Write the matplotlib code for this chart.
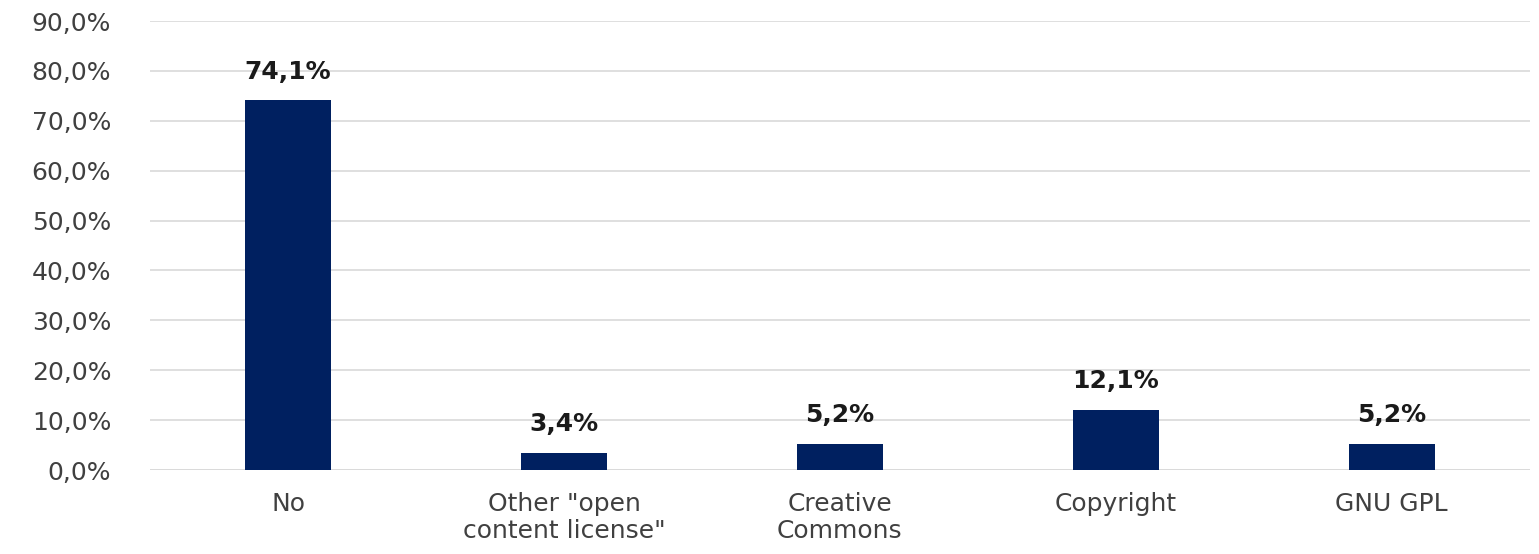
import numpy as np
import matplotlib
matplotlib.use('Agg')
import matplotlib.pyplot as plt

categories = ['No', 'Other "open\ncontent license"', 'Creative\nCommons', 'Copyright', 'GNU GPL']
values = [74.1, 3.4, 5.2, 12.1, 5.2]
yticks = [0, 10, 20, 30, 40, 50, 60, 70, 80, 90]

plt.rcParams['font.family'] = ['DejaVu Sans']

fig = plt.figure(figsize=(15.39, 5.54), dpi=100)
ax = fig.add_axes([0.0975, 0.1516, 0.8965, 0.8104])

x = np.arange(len(categories))
ax.bar(x, values, width=0.31, color='#002060', zorder=3)

for xi, v in zip(x, values):
    ax.annotate('{:.1f}%'.format(v).replace('.', ','), (xi, v), xytext=(0, 12),
                textcoords='offset points', ha='center', va='bottom',
                fontsize=18, fontweight='bold', color='#1a1a1a')

ax.set_xlim(-0.5, len(categories) - 0.5)
ax.set_ylim(0, 90)
ax.set_yticks(yticks)
ax.set_yticklabels(['{:.1f}%'.format(t).replace('.', ',') for t in yticks])
ax.set_xticks(x)
ax.set_xticklabels(categories, linespacing=1.15)
ax.tick_params(axis='y', length=0, pad=28, labelsize=18, labelcolor='#404040')
ax.tick_params(axis='x', length=0, pad=16, labelsize=18, labelcolor='#404040')

ax.grid(axis='y', color='#d9d9d9', linewidth=1.2, zorder=0)
for s in ax.spines.values():
    s.set_visible(False)
ax.axhline(0, color='#d9d9d9', linewidth=1.2, zorder=1)

fig.savefig('out.png', dpi=100)
